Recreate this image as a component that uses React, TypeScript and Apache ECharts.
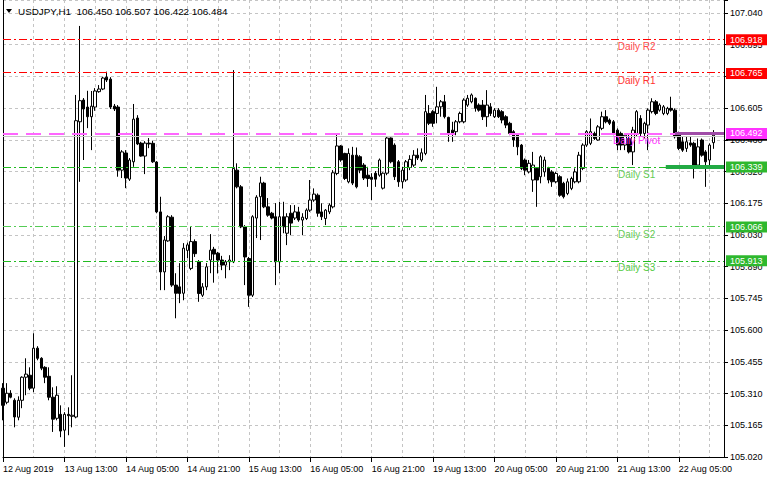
import React, { useEffect, useRef } from "react";
import * as echarts from "echarts";

// ---------- data ----------
const titleText = "USDJPY,H1  106.450 106.507 106.422 106.484";

// one label every 16 hourly bars, first bar = 12 Aug 21:00
const timeLabels = [
  "12 Aug 2019", "13 Aug 13:00", "14 Aug 05:00", "14 Aug 21:00", "15 Aug 13:00", "16 Aug 05:00",
  "16 Aug 21:00", "19 Aug 13:00", "20 Aug 05:00", "20 Aug 21:00", "21 Aug 13:00", "22 Aug 05:00",
];
const barsPerLabel = 16;
const barsPerGridLine = 8;
const visibleBars = 187.76;

const priceTicks = [
  "105.020", "105.165", "105.310", "105.455", "105.600", "105.745", "105.890", "106.030",
  "106.175", "106.320", "106.460", "106.605", "106.750", "106.895", "107.040",
];
const priceMin = 105.02;
const priceStep = 0.144286;
const priceTop = 107.099;

// [open, close, low, high]
const ohlc: [number, number, number, number][] = [
  [105.333,105.255,105.187,105.356],[105.269,105.310,105.260,105.356],[105.310,105.292,105.287,105.324],
  [105.278,105.202,105.155,105.287],[105.201,105.278,105.187,105.296],[105.278,105.383,105.242,105.387],
  [105.383,105.397,105.301,105.469],[105.392,105.333,105.324,105.428],[105.333,105.515,105.315,105.583],
  [105.515,105.469,105.460,105.524],[105.469,105.424,105.415,105.474],[105.428,105.383,105.356,105.433],
  [105.387,105.292,105.278,105.428],[105.292,105.192,105.134,105.337],[105.196,105.301,105.187,105.342],
  [105.214,105.138,105.110,105.255],[105.142,105.214,105.066,105.224],[105.214,105.208,105.119,105.246],
  [105.205,105.210,105.155,105.392],[105.202,106.550,105.196,106.667],[106.545,106.641,106.272,106.981],
  [106.644,106.603,106.371,106.653],[106.612,106.568,106.516,106.686],[106.568,106.616,106.416,106.685],
  [106.612,106.685,106.595,106.698],[106.682,106.694,106.677,106.712],[106.694,106.744,106.689,106.750],
  [106.748,106.735,106.726,106.773],[106.739,106.612,106.603,106.748],[106.616,106.603,106.594,106.626],
  [106.612,106.325,106.295,106.621],[106.325,106.408,106.289,106.416],[106.403,106.289,106.243,106.416],
  [106.284,106.371,106.276,106.380],[106.363,106.557,106.340,106.626],[106.562,106.444,106.439,106.575],
  [106.448,106.389,106.386,106.454],[106.389,106.448,106.307,106.457],[106.448,106.444,106.425,106.471],
  [106.447,106.363,106.358,106.459],[106.362,106.135,106.129,106.366],[106.135,105.862,105.779,106.204],
  [105.862,106.007,105.779,106.025],[106.003,106.113,105.999,106.120],[106.111,105.802,105.794,106.120],
  [105.802,105.765,105.651,105.856],[105.794,105.764,105.720,105.902],[105.765,105.970,105.733,105.993],
  [105.960,105.985,105.925,105.995],[105.878,106.000,105.870,106.067],[106.000,105.945,105.930,106.010],
  [105.908,105.764,105.726,105.916],[105.756,105.794,105.748,105.811],[105.794,105.885,105.779,105.902],
  [105.916,105.961,105.856,106.034],[105.965,105.943,105.813,105.976],[105.947,105.916,105.855,105.953],
  [105.916,105.893,105.870,105.935],[105.893,105.908,105.833,105.916],[105.908,105.916,105.870,105.938],
  [105.908,106.333,105.902,106.780],[106.325,106.249,106.242,106.356],[106.249,106.067,106.061,106.257],
  [106.067,105.930,105.802,106.075],[105.923,105.756,105.703,105.930],[105.756,106.113,105.748,106.120],
  [106.107,106.202,106.016,106.211],[106.204,106.267,106.007,106.295],[106.266,106.158,106.152,106.272],
  [106.158,106.120,106.113,106.198],[106.129,106.107,106.101,106.135],[106.113,105.908,105.802,106.175],
  [105.908,106.113,105.856,106.181],[106.113,106.067,106.038,106.181],[106.038,106.113,105.984,106.129],
  [106.129,106.084,106.029,106.166],[106.107,106.135,106.098,106.166],[106.135,106.098,106.090,106.158],
  [106.098,106.111,106.029,106.129],[106.105,106.143,106.098,106.151],[106.143,106.189,106.135,106.280],
  [106.189,106.216,106.181,106.242],[106.211,106.129,106.113,106.219],[106.135,106.113,106.098,106.174],
  [106.105,106.143,106.075,106.148],[106.135,106.166,106.125,106.174],[106.158,106.313,106.151,106.325],
  [106.310,106.435,106.302,106.492],[106.435,106.371,106.363,106.439],[106.401,106.287,106.280,106.404],
  [106.272,106.401,106.265,106.424],[106.393,106.266,106.257,106.431],[106.393,106.249,106.242,106.428],
  [106.386,106.325,106.311,106.393],[106.348,106.289,106.280,106.357],[106.302,106.287,106.249,106.340],
  [106.293,106.283,106.189,106.311],[106.311,106.284,106.249,106.321],[106.302,106.371,106.295,106.378],
  [106.243,106.311,106.237,106.315],[106.311,106.471,106.302,106.477],[106.471,106.363,106.356,106.474],
  [106.439,106.295,106.280,106.447],[106.363,106.272,106.249,106.371],[106.272,106.325,106.242,106.340],
  [106.280,106.363,106.272,106.371],[106.337,106.374,106.325,106.393],[106.348,106.393,106.340,106.416],
  [106.393,106.380,106.371,106.424],[106.371,106.404,106.363,106.424],[106.401,106.591,106.393,106.667],
  [106.583,106.538,106.530,106.621],[106.591,106.538,106.522,106.598],[106.583,106.613,106.538,106.704],
  [106.613,106.636,106.568,106.644],[106.636,106.568,106.560,106.667],[106.565,106.492,106.454,106.568],
  [106.507,106.494,106.454,106.545],[106.500,106.545,106.484,106.553],[106.545,106.583,106.538,106.591],
  [106.545,106.644,106.538,106.652],[106.621,106.652,106.613,106.667],[106.636,106.667,106.629,106.674],
  [106.652,106.606,106.591,106.656],[106.621,106.598,106.591,106.629],[106.621,106.568,106.553,106.644],
  [106.568,106.621,106.522,106.689],[106.613,106.583,106.571,106.630],[106.568,106.598,106.562,106.607],
  [106.598,106.568,106.562,106.607],[106.591,106.553,106.538,106.598],[106.568,106.530,106.516,106.575],
  [106.538,106.492,106.484,106.545],[106.500,106.462,106.431,106.507],[106.484,106.431,106.393,106.492],
  [106.439,106.333,106.325,106.444],[106.371,106.325,106.302,106.378],[106.317,106.356,106.310,106.371],
  [106.280,106.348,106.226,106.408],[106.333,106.280,106.158,106.336],[106.295,106.386,106.265,106.393],
  [106.317,106.371,106.295,106.386],[106.333,106.280,106.265,106.340],[106.317,106.272,106.249,106.325],
  [106.272,106.310,106.265,106.317],[106.295,106.211,106.204,106.302],[106.265,106.204,106.196,106.272],
  [106.219,106.272,106.211,106.287],[106.242,106.287,106.234,106.295],[106.272,106.317,106.265,106.333],
  [106.272,106.393,106.265,106.408],[106.333,106.439,106.325,106.447],[106.439,106.500,106.431,106.507],
  [106.447,106.500,106.439,106.560],[106.492,106.469,106.462,106.500],[106.462,106.522,106.459,106.530],
  [106.515,106.568,106.507,106.591],[106.568,106.545,106.538,106.598],[106.553,106.538,106.530,106.560],
  [106.545,106.492,106.484,106.553],[106.507,106.439,106.416,106.515],[106.492,106.439,106.416,106.500],
  [106.439,106.484,106.416,106.492],[106.469,106.408,106.401,106.492],[106.408,106.507,106.348,106.522],
  [106.492,106.591,106.477,106.598],[106.560,106.492,106.477,106.575],[106.492,106.538,106.469,106.545],
  [106.530,106.598,106.416,106.606],[106.591,106.636,106.583,106.652],[106.636,106.583,106.575,106.644],
  [106.598,106.621,106.591,106.629],[106.583,106.613,106.575,106.621],[106.583,106.606,106.575,106.613],
  [106.606,106.598,106.591,106.659],[106.598,106.477,106.469,106.606],[106.492,106.424,106.416,106.500],
  [106.454,106.416,106.408,106.477],[106.424,106.454,106.408,106.477],[106.449,106.439,106.431,106.477],
  [106.447,106.333,106.287,106.454],[106.348,106.431,106.340,106.469],[106.462,106.393,106.386,106.469],
  [106.408,106.363,106.249,106.416],[106.371,106.439,106.348,106.447],[106.450,106.484,106.422,106.507],
];

const levelNames = ["Daily R2", "Daily R1", "Daily Pivot", "Daily S1", "Daily S2", "Daily S3"];
const levelValues = [106.918, 106.765, 106.492, 106.339, 106.066, 105.913];
const levelPriceText = ["106.918", "106.765", "106.492", "106.339", "106.066", "105.913"];
const levelLabelBar = 165;
const bidPrice = 106.484;
const bidPriceText = "106.484";
const pivotTodayStartBar = 175;
const s1TodayStartBar = 172.6;

// ---------- styles ----------
const FONT = '"Liberation Sans", Arial, sans-serif';
const RED = "#ff0000";
const GREEN = "#22bb22";
const levelStyles = [
  { line: RED, width: 1, dash: [8, 3, 2, 3], text: "#ff4a4a", box: "#ff0000" },
  { line: RED, width: 1, dash: [8, 3, 2, 3], text: "#ff3030", box: "#ff0000" },
  { line: "#ff66ff", width: 2, dash: [15, 8], text: "#ff33ff", box: "#ff33ff" },
  { line: GREEN, width: 1, dash: [8, 3, 2, 3], text: "#66cc55", box: "#2eb82e" },
  { line: "#55cc55", width: 1, dash: [8, 3, 2, 3], text: "#66cc55", box: "#2eb82e" },
  { line: GREEN, width: 1, dash: [8, 3, 2, 3], text: "#55cc44", box: "#2eb82e" },
];
const GRID_COLOR = "#c4c4c4";

export default function App() {
  const ref = useRef<HTMLDivElement>(null);

  useEffect(() => {
    if (!ref.current) return;
    const chart = echarts.init(ref.current, undefined, { renderer: "svg" });

    const candleData = ohlc.map((d, i) => [i, d[0], d[1], d[2], d[3]]);

    const markLines: any[] = [];
    markLines.push({
      yAxis: bidPrice,
      lineStyle: { color: "#c8c8c8", width: 1, type: "solid" },
    });
    levelValues.forEach((v, i) => {
      const s = levelStyles[i];
      markLines.push({
        yAxis: v,
        lineStyle: { color: s.line, width: s.width, type: s.dash },
      });
    });
    markLines.push([
      { coord: [pivotTodayStartBar, levelValues[2]], lineStyle: { color: "#a04ca8", width: 3, type: "solid" } },
      { coord: [visibleBars, levelValues[2]] },
    ]);
    markLines.push([
      { coord: [s1TodayStartBar, levelValues[3]], lineStyle: { color: "#22aa44", width: 4, type: "solid" } },
      { coord: [visibleBars, levelValues[3]] },
    ]);

    const priceFormatter = (v: number) => {
      const k = Math.round((v - priceMin) / priceStep);
      if (k < 0 || k >= priceTicks.length) return "";
      if (Math.abs(v - (priceMin + k * priceStep)) > 0.002) return "";
      return priceTicks[k];
    };

    const option: any = {
      animation: false,
      backgroundColor: "#ffffff",
      grid: { left: 3, right: 44, top: 0, bottom: 23, containLabel: false },
      xAxis: [
        {
          type: "value",
          min: 0,
          max: visibleBars,
          interval: barsPerLabel,
          position: "bottom",
          axisLine: { show: true, onZero: false, lineStyle: { color: "#000", width: 1 } },
          axisTick: { show: true, length: 5, lineStyle: { color: "#000" } },
          axisLabel: {
            show: true,
            margin: 7,
            align: "left",
            fontSize: 9,
            fontFamily: FONT,
            color: "#000",
            showMinLabel: true,
            showMaxLabel: false,
            formatter: (v: number) => {
              const k = Math.round(v / barsPerLabel);
              if (Math.abs(v - k * barsPerLabel) > 0.01) return "";
              return timeLabels[k] ?? "";
            },
          },
          splitLine: { show: false },
        },
        {
          type: "value",
          min: 0,
          max: visibleBars,
          interval: barsPerGridLine,
          position: "bottom",
          axisLine: { show: false },
          axisTick: { show: false },
          axisLabel: { show: false },
          splitLine: { show: true, lineStyle: { color: GRID_COLOR, type: [3, 3], width: 1 } },
        },
      ],
      yAxis: [
        {
          type: "value",
          position: "right",
          min: priceMin,
          max: priceTop,
          interval: priceStep,
          scale: true,
          axisLine: { show: true, onZero: false, lineStyle: { color: "#000", width: 1 } },
          axisTick: { show: true, length: 4, lineStyle: { color: "#000" } },
          axisLabel: {
            show: true,
            margin: 6,
            fontSize: 9,
            fontFamily: FONT,
            color: "#000",
            formatter: priceFormatter,
          },
          splitLine: { show: true, lineStyle: { color: GRID_COLOR, type: [3, 3], width: 1 } },
        },
        {
          type: "value",
          position: "left",
          min: priceMin,
          max: priceTop,
          scale: true,
          axisLine: { show: true, onZero: false, lineStyle: { color: "#000", width: 1 } },
          axisTick: { show: false },
          axisLabel: { show: false },
          splitLine: { show: false },
        },
      ],
      series: [
        {
          type: "candlestick",
          xAxisIndex: 0,
          yAxisIndex: 0,
          data: candleData,
          encode: { x: 0, y: [1, 2, 3, 4] },
          barWidth: 3,
          itemStyle: {
            color: "#ffffff",
            color0: "#000000",
            borderColor: "#000000",
            borderColor0: "#000000",
            borderWidth: 1,
          },
          markLine: {
            silent: true,
            symbol: ["none", "none"],
            label: { show: false },
            data: markLines,
          },
        },
      ],
    };

    chart.setOption(option);

    const yPx = (v: number) => chart.convertToPixel({ yAxisIndex: 0 }, v) as number;
    const xPx = (v: number) => chart.convertToPixel({ xAxisIndex: 0 }, v) as number;
    const labelX = xPx(levelLabelBar);
    const boxX = 726;
    const boxW = 41;
    const boxH = 11;

    const graphics: any[] = [
      {
        type: "polygon",
        z: 100,
        shape: { points: [[6, 9], [12, 9], [9, 13]] },
        style: { fill: "#000" },
      },
      {
        type: "text",
        z: 100,
        x: 18,
        y: 11,
        style: {
          text: titleText,
          font: `9.9px ${FONT}`,
          fill: "#000",
          verticalAlign: "middle",
          textVerticalAlign: "middle",
        },
      },
    ];

    levelValues.forEach((v, i) => {
      const y = yPx(v);
      graphics.push({
        type: "text",
        z: 100,
        x: labelX,
        y: y + 7,
        style: {
          text: levelNames[i],
          font: `10px ${FONT}`,
          fill: levelStyles[i].text,
          align: "center",
          textAlign: "center",
          verticalAlign: "middle",
          textVerticalAlign: "middle",
        },
      });
    });

    const boxes: { v: number; t: string; c: string }[] = [];
    boxes.push({ v: bidPrice, t: bidPriceText, c: "#000000" });
    levelValues.forEach((v, i) => boxes.push({ v, t: levelPriceText[i], c: levelStyles[i].box }));
    boxes.forEach((b, k) => {
      const y = yPx(b.v);
      graphics.push({
        type: "rect",
        z: 110 + k * 2,
        shape: { x: boxX, y: y - boxH / 2, width: boxW, height: boxH },
        style: { fill: b.c },
      });
      graphics.push({
        type: "text",
        z: 111 + k * 2,
        x: boxX + 4,
        y: y,
        style: {
          text: b.t,
          font: `9px ${FONT}`,
          fill: "#ffffff",
          verticalAlign: "middle",
          textVerticalAlign: "middle",
        },
      });
    });

    chart.setOption({ graphic: graphics });

    return () => {
      chart.dispose();
    };
  }, []);

  return (
    <div
      ref={ref}
      style={{ position: "absolute", left: 0, top: 0, width: 768, height: 480 }}
    />
  );
}
